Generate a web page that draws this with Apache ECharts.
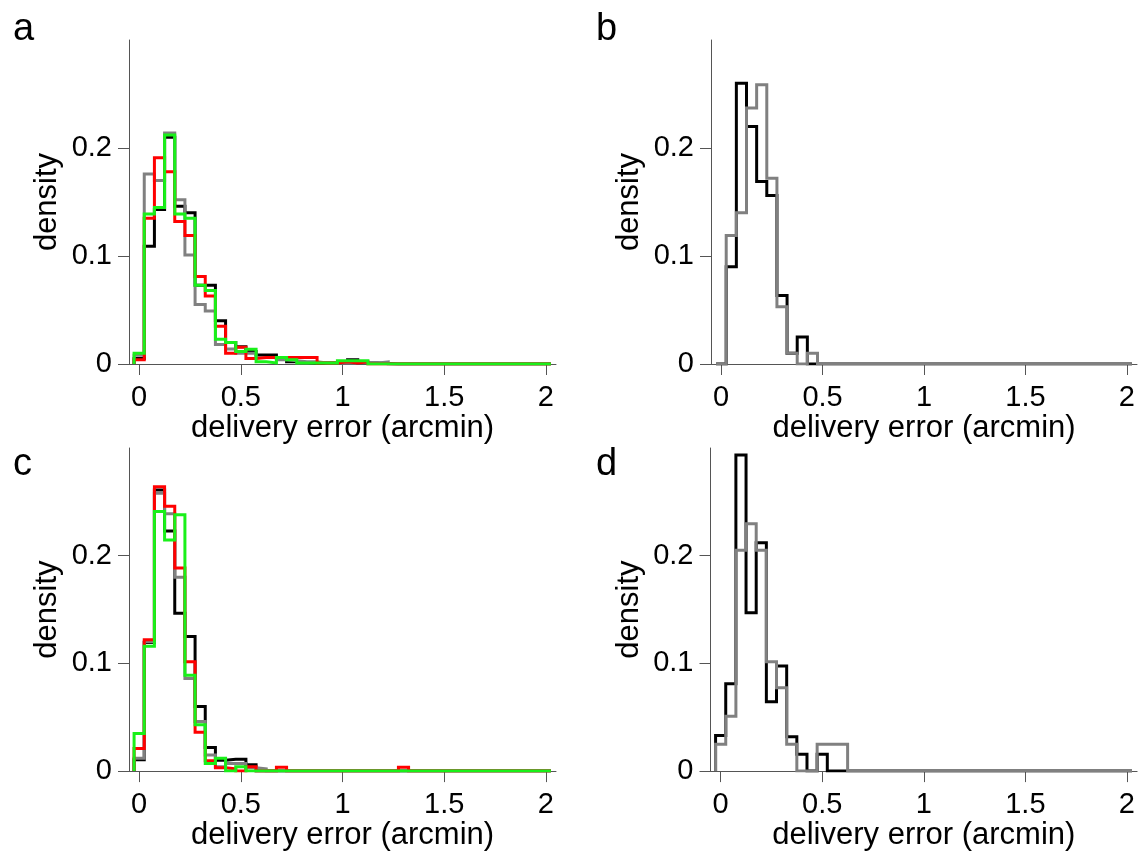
<!DOCTYPE html>
<html>
<head>
<meta charset="utf-8">
<title>delivery error histograms</title>
<script src="https://cdn.jsdelivr.net/npm/echarts@6/dist/echarts.min.js"></script>
<style>
  html, body { margin: 0; padding: 0; background: #fff; }
  #chart { width: 1138px; height: 852px; }
</style>
</head>
<body>
<div id="chart"></div>
<script>
// Histogram bins: width 0.05 arcmin, centred on 0, 0.05, ..., 2.0
const BIN_WIDTH = 0.05;
const N_BINS = 41;

// Tick positions
const X_TICKS = [0, 0.5, 1, 1.5, 2];
const Y_TICKS = [0, 0.1, 0.2];

// Panel labels and axis titles
const PANEL_LETTERS = ['a', 'b', 'c', 'd'];
const X_TITLE = 'delivery error (arcmin)';
const Y_TITLE = 'density';

// Densities per bin (bins past the end of each list are empty)
// panel a
const aBlack = [0.005, 0.109, 0.143, 0.210, 0.146, 0.140, 0.073, 0.073, 0.040, 0.020, 0.016, 0.0115, 0.0084, 0.0084, 0.005, 0.002, 0.0015, 0.001, 0.001, 0.001, 0.002, 0.004, 0.001, 0.001, 0.0005];
const aGrey  = [0.008, 0.176, 0.170, 0.214, 0.152, 0.101, 0.055, 0.049, 0.018, 0.014, 0.010, 0.010, 0.006, 0.006, 0.004, 0.003, 0.002, 0.002, 0.001, 0.001, 0.001, 0.001, 0.001, 0.001, 0.002];
const aRed   = [0.004, 0.135, 0.191, 0.178, 0.132, 0.119, 0.081, 0.063, 0.035, 0.010, 0.0155, 0.005, 0.006, 0.006, 0.006, 0.006, 0.006, 0.006, 0.001, 0.001, 0.002, 0.001, 0.002];
const aGreen = [0.010, 0.139, 0.145, 0.212, 0.139, 0.135, 0.073, 0.068, 0.023, 0.020, 0.0115, 0.0136, 0.002, 0.001, 0.006, 0.004, 0.001, 0.001, 0.001, 0.001, 0.003, 0.003, 0.003];
// panel b
const bBlack = [0, 0.090, 0.260, 0.220, 0.169, 0.156, 0.0635, 0.010, 0.025, 0];
const bGrey  = [0, 0.119, 0.140, 0.237, 0.2585, 0.172, 0.053, 0.010, 0, 0.010];
// panel c
const cBlack = [0.0105, 0.1195, 0.261, 0.223, 0.1465, 0.125, 0.060, 0.022, 0.010, 0.011, 0.011, 0.006];
const cGrey  = [0.012, 0.120, 0.258, 0.239, 0.180, 0.086, 0.046, 0.015, 0.004, 0.007, 0.007, 0.003, 0.002];
const cRed   = [0.021, 0.122, 0.264, 0.246, 0.1885, 0.1015, 0.036, 0.0096, 0.003, 0.002, 0, 0.004, 0, 0, 0.0035, 0, 0, 0, 0, 0, 0, 0, 0, 0, 0, 0, 0.0035];
const cGreen = [0.035, 0.116, 0.241, 0.2145, 0.238, 0.089, 0.043, 0.007, 0.012, 0, 0.004];
// panel d
const dBlack = [0.033, 0.081, 0.2935, 0.147, 0.212, 0.0645, 0.0975, 0.032, 0.0157, 0, 0.0157];
const dGrey  = [0.025, 0.051, 0.205, 0.2296, 0.205, 0.1015, 0.0775, 0.025, 0, 0, 0.025, 0.025, 0.025];

const COLORS = { black: '#000000', grey: '#808080', red: '#ff0000', green: '#19f019' };
const FONT = "'Liberation Sans', Arial, Helvetica, sans-serif";
const AXIS_COLOR = '#555555';

// Panel layout (pixels)
const GRIDS = [
  { left: 129, top: 40, width: 427, height: 324 },
  { left: 711, top: 40, width: 426, height: 324 },
  { left: 129, top: 448, width: 427, height: 324 },
  { left: 710.5, top: 448, width: 427, height: 324 }
];
const LETTER_POS = [[13, 30], [596, 30], [13, 465], [596, 465]];

// Series per panel, in drawing order (last on top)
const PANELS = [
  [['black', aBlack], ['grey', aGrey], ['red', aRed], ['green', aGreen]],
  [['black', bBlack], ['grey', bGrey]],
  [['black', cBlack], ['grey', cGrey], ['red', cRed], ['green', cGreen]],
  [['black', dBlack], ['grey', dGrey]]
];

// Outline of a histogram: one point at each bin's left edge, closed to zero at both ends
function stairsPoints(values) {
  const pts = [[-BIN_WIDTH / 2, 0]];
  for (let k = 0; k < N_BINS; k++) {
    const v = k < values.length ? values[k] : 0;
    pts.push([(k - 0.5) * BIN_WIDTH, v]);
  }
  pts.push([(N_BINS - 0.5) * BIN_WIDTH, 0]);
  return pts;
}

function fmt(v) { return String(Math.round(v * 100) / 100); }

const xAxes = GRIDS.map((g, i) => ({
  type: 'value', gridIndex: i, min: -0.05, max: 2.05,
  name: X_TITLE, nameLocation: 'middle', nameGap: 44,
  nameTextStyle: { fontSize: 31, color: '#000', fontFamily: FONT },
  axisLine: { show: true, onZero: false, lineStyle: { color: AXIS_COLOR, width: 1 } },
  axisTick: { show: true, inside: false, length: 11, customValues: X_TICKS, lineStyle: { color: AXIS_COLOR, width: 1 } },
  axisLabel: { show: true, customValues: X_TICKS, fontSize: 29, color: '#000', fontFamily: FONT, margin: 19, formatter: fmt },
  splitLine: { show: false }
}));

const yAxes = GRIDS.map((g, i) => ({
  type: 'value', gridIndex: i, min: 0, max: 0.3,
  name: Y_TITLE, nameLocation: 'middle', nameGap: 66,
  nameTextStyle: { fontSize: 31, color: '#000', fontFamily: FONT },
  axisLine: { show: true, onZero: false, lineStyle: { color: AXIS_COLOR, width: 1 } },
  axisTick: { show: true, inside: false, length: 11, customValues: Y_TICKS, lineStyle: { color: AXIS_COLOR, width: 1 } },
  axisLabel: { show: true, customValues: Y_TICKS, fontSize: 29, color: '#000', fontFamily: FONT, margin: 17, formatter: fmt },
  splitLine: { show: false }
}));

const series = [];
PANELS.forEach((list, i) => {
  list.forEach(([colorName, values]) => {
    series.push({
      type: 'line', xAxisIndex: i, yAxisIndex: i,
      step: 'end', symbol: 'none', showSymbol: false, silent: true,
      data: stairsPoints(values),
      lineStyle: { color: COLORS[colorName], width: 3, join: 'miter', cap: 'butt' },
      emphasis: { disabled: true }
    });
  });
});

const graphic = PANEL_LETTERS.map((t, i) => ({
  type: 'text', left: LETTER_POS[i][0], top: LETTER_POS[i][1] - 19,
  style: { text: t, fontSize: 38, fontFamily: FONT, fill: '#000' }
}));

const chart = echarts.init(document.getElementById('chart'), null, { renderer: 'canvas' });
chart.setOption({
  animation: false,
  backgroundColor: '#ffffff',
  grid: GRIDS.map(g => Object.assign({ containLabel: false }, g)),
  xAxis: xAxes,
  yAxis: yAxes,
  series: series,
  graphic: graphic
});
</script>
</body>
</html>
